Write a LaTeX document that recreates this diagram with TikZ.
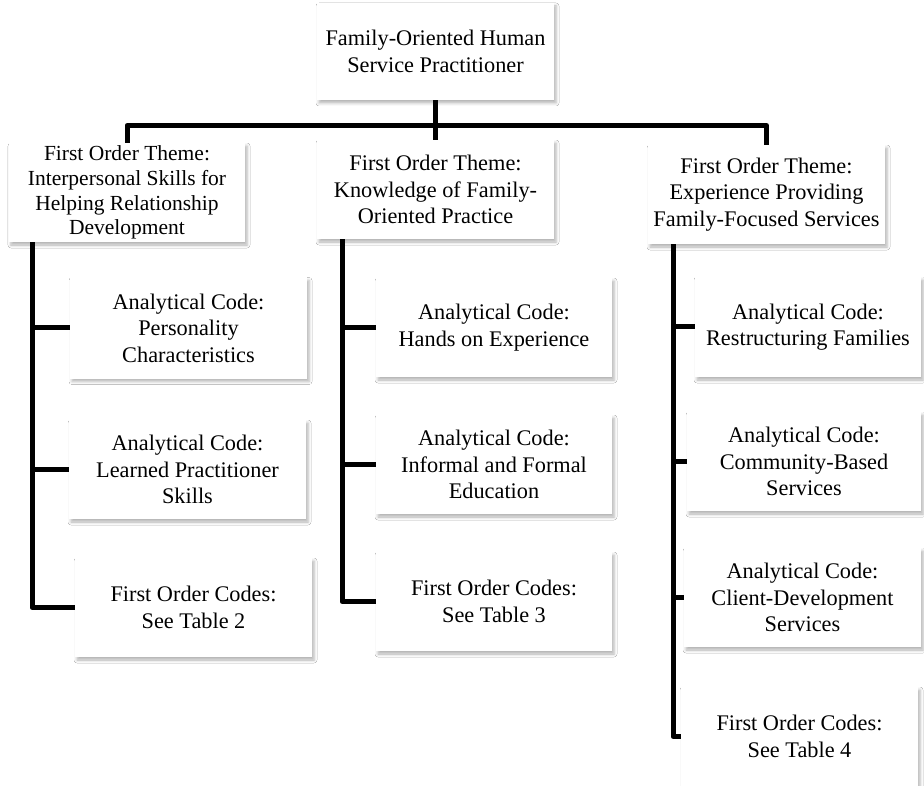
\documentclass[tikz,border=0pt]{standalone}
\usepackage{fontspec}
\setmainfont{Liberation Serif}
\usetikzlibrary{shadows.blur}
\pgfdeclarelayer{bg}
\pgfsetlayers{bg,main}
\begin{document}
\begin{tikzpicture}[x=1pt,y=-1pt,
  box/.style={fill=white, inner sep=0pt, align=center,
    font=\fontsize{22.3}{26.5}\selectfont,
    minimum width=237pt, minimum height=99pt,
    blur shadow={shadow xshift=2pt, shadow yshift=-3pt, shadow blur radius=3pt, shadow opacity=30}},
  conn/.style={line width=5pt, line join=round, draw=black}]
\clip (0,0) rectangle (924,786);

\node[box, minimum height=97pt] (top) at (435.5,51.5) {Family-Oriented Human\\Service Practitioner};

\node[box, minimum width=236pt, font=\fontsize{21.5}{24.7}\selectfont] (t1) at (127,192.5)
  {First Order Theme:\\Interpersonal Skills for\\Helping Relationship\\Development};
\node[box] (t2) at (435.5,189.5) {First Order Theme:\\Knowledge of Family-\\Oriented Practice};
\node[box] (t3) at (766.5,194.5) {First Order Theme:\\Experience Providing\\Family-Focused Services};

\node[box, minimum height=101pt] (l1) at (188.5,328) {Analytical Code:\\Personality\\Characteristics};
\node[box] (l2) at (187.5,469.5) {Analytical Code:\\Learned Practitioner\\Skills};
\node[box] (l3) at (193.5,607.5) {First Order Codes:\\See Table 2};

\node[box, minimum width=236pt] (m1) at (494,327.5) {Analytical Code:\\Hands on Experience};
\node[box, minimum width=236pt] (m2) at (494,464.5) {Analytical Code:\\Informal and Formal\\Education};
\node[box, minimum width=236pt] (m3) at (494,601.5) {First Order Codes:\\See Table 3};

\node[box, minimum width=226pt, minimum height=100pt] (r1) at (808,327) {Analytical Code:\\Restructuring Families};
\node[box, minimum width=234pt] (r2) at (804,461.5) {Analytical Code:\\Community-Based\\Services};
\node[box] (r3) at (802.5,597.5) {Analytical Code:\\Client-Development\\Services};
\node[box] (r4) at (799.5,736.5) {First Order Codes:\\See Table 4};

\coordinate (bar) at (435.5,125.5);
\coordinate (s1) at (32,0);
\coordinate (s2) at (342,0);
\coordinate (s3) at (673,0);

\begin{pgfonlayer}{bg}
\fill[white] (0,0) rectangle (924,786);
\draw[conn] (top.south) -- (t2.north);
\draw[conn] (t1.north) |- (bar) -| (t3.north);

\draw[conn] (t1.south -| s1) |- (l3.west);
\draw[conn] (l1.west -| s1) -- (l1.west);
\draw[conn] (l2.west -| s1) -- (l2.west);

\draw[conn] (t2.south -| s2) |- (m3.west);
\draw[conn] (m1.west -| s2) -- (m1.west);
\draw[conn] (m2.west -| s2) -- (m2.west);

\draw[conn] (t3.south -| s3) |- (r4.west);
\draw[conn] (r1.west -| s3) -- (r1.west);
\draw[conn] (r2.west -| s3) -- (r2.west);
\draw[conn] (r3.west -| s3) -- (r3.west);
\end{pgfonlayer}
\end{tikzpicture}
\end{document}
